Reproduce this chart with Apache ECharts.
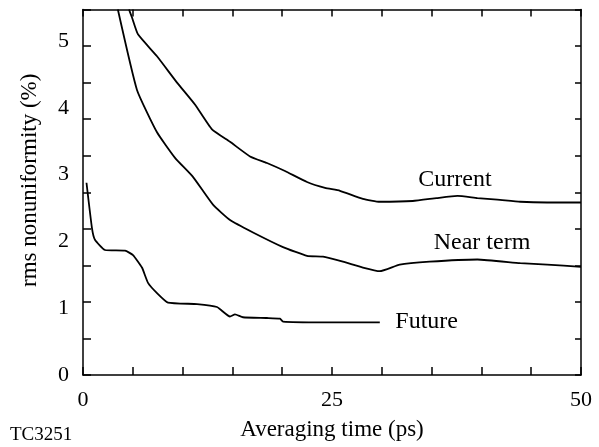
<!DOCTYPE html>
<html>
<head>
<meta charset="utf-8">
<script src="https://cdn.jsdelivr.net/npm/echarts@6/dist/echarts.min.js"></script>
<style>
  html, body { margin: 0; padding: 0; background: #fff; }
  #chart { width: 599px; height: 447px; }
</style>
</head>
<body>
<div id="chart"></div>
<script>
// averaging time (ps) vs rms nonuniformity (%)
var currentT = [4.62, 4.92, 5.52, 7.43, 9.44, 11.24, 12.95, 14.76, 16.77, 18.47, 20.28, 22.49, 24.3, 25.8, 28.1, 29.8, 33.1, 35.5, 37.6, 39.6, 41.6, 43.9, 46.6, 50]
var currentV = [5.0, 4.89, 4.66, 4.36, 4.0, 3.7, 3.36, 3.19, 2.99, 2.9, 2.79, 2.64, 2.56, 2.52, 2.41, 2.37, 2.38, 2.42, 2.45, 2.42, 2.4, 2.37, 2.36, 2.36]

var nearT = [3.5, 5.42, 7.43, 9.24, 11.04, 13.05, 14.76, 17.07, 20.08, 22.49, 24.1, 26.1, 28.1, 29.8, 31.8, 34.8, 39.6, 43.9, 46.6, 50]
var nearV = [5.0, 3.9, 3.32, 2.97, 2.71, 2.33, 2.12, 1.95, 1.75, 1.63, 1.62, 1.55, 1.47, 1.42, 1.51, 1.55, 1.58, 1.53, 1.51, 1.48]

var futureT = [0.35, 0.9, 1.2, 2.21, 4.22, 5.02, 5.92, 6.53, 7.43, 8.53, 11.45, 13.45, 14.76, 15.26, 16.06, 18.47, 19.78, 20.08, 24.1, 29.8]
var futureV = [2.63, 2.01, 1.85, 1.71, 1.7, 1.64, 1.47, 1.26, 1.12, 0.99, 0.97, 0.93, 0.8, 0.83, 0.79, 0.78, 0.77, 0.73, 0.72, 0.72]

var yTickLabels = ['0', '1', '2', '3', '4', '5']
var xTickLabels = ['0', '25', '50']

var FONT = "'Liberation Serif', 'DejaVu Serif', serif"

function pairs (xs, ys) {
  return xs.map(function (x, i) { return [x, ys[i]] })
}

function curve (name, xs, ys, labelAt) {
  return {
    name: name,
    type: 'line',
    data: pairs(xs, ys),
    showSymbol: false,
    smooth: 0.15,
    clip: true,
    xAxisIndex: 0,
    yAxisIndex: 0,
    lineStyle: { color: '#000', width: 1.8 },
    markPoint: {
      symbol: 'circle',
      symbolSize: 0,
      silent: true,
      label: {
        show: true,
        position: 'inside',
        formatter: name,
        color: '#000',
        fontFamily: FONT,
        fontSize: 24
      },
      data: [{ coord: labelAt }]
    }
  }
}

var chart = echarts.init(document.getElementById('chart'))
var frame = { show: true, onZero: false, lineStyle: { color: '#000', width: 1.5 } }

chart.setOption({
  animation: false,
  backgroundColor: '#fff',
  title: {
    text: 'TC3251',
    left: 5,
    top: 421,
    textStyle: { fontFamily: FONT, fontSize: 19, fontWeight: 'normal', color: '#000' }
  },
  grid: { left: 83, right: 18, top: 9.5, bottom: 72 },
  xAxis: [{
    type: 'value',
    position: 'bottom',
    min: 0,
    max: 50,
    interval: 5,
    name: 'Averaging time (ps)',
    nameLocation: 'middle',
    nameGap: 43,
    nameTextStyle: { fontFamily: FONT, fontSize: 23, color: '#000' },
    axisLine: frame,
    axisTick: { inside: true, length: 8, lineStyle: { color: '#000', width: 1.5 } },
    splitLine: { show: false },
    axisLabel: {
      margin: 14,
      fontFamily: FONT,
      fontSize: 22,
      color: '#000',
      showMaxLabel: true,
      formatter: function (v) {
        return xTickLabels.indexOf(String(v)) >= 0 ? String(v) : ''
      }
    }
  }, {
    type: 'value',
    position: 'top',
    min: 0,
    max: 50,
    interval: 5,
    axisLine: frame,
    axisTick: { inside: true, length: 7, lineStyle: { color: '#000', width: 1.5 } },
    axisLabel: { show: false },
    splitLine: { show: false }
  }],
  yAxis: [{
    type: 'value',
    position: 'left',
    min: 0,
    max: 5,
    interval: 0.5,
    axisLine: frame,
    axisTick: { show: true, inside: true, length: 8, lineStyle: { color: '#000', width: 1.5 } },
    axisLabel: { show: false },
    splitLine: { show: false }
  }, {
    type: 'value',
    position: 'right',
    min: 0,
    max: 5,
    interval: 0.5,
    axisLine: frame,
    axisTick: { show: true, inside: true, length: 6, lineStyle: { color: '#000', width: 1.5 } },
    axisLabel: { show: false },
    splitLine: { show: false }
  }, {
    // printed tick labels sit off the tick marks in the original, so they get their own scale
    type: 'value',
    position: 'left',
    min: 0,
    max: 5.47,
    interval: 1,
    name: 'rms nonuniformity (%)',
    nameLocation: 'middle',
    nameGap: 42,
    nameTextStyle: { fontFamily: FONT, fontSize: 23, color: '#000', padding: [0, 0, 0, 24] },
    axisLine: { show: false, onZero: false },
    axisTick: { show: false },
    splitLine: { show: false },
    axisLabel: {
      margin: 14,
      fontFamily: FONT,
      fontSize: 22,
      color: '#000',
      showMaxLabel: false,
      formatter: function (v) {
        return yTickLabels.indexOf(String(v)) >= 0 ? String(v) : ''
      }
    }
  }],
  series: [
    curve('Current', currentT, currentV, [37.35, 2.67]),
    curve('Near term', nearT, nearV, [40.06, 1.81]),
    curve('Future', futureT, futureV, [34.5, 0.725])
  ]
})
</script>
</body>
</html>
